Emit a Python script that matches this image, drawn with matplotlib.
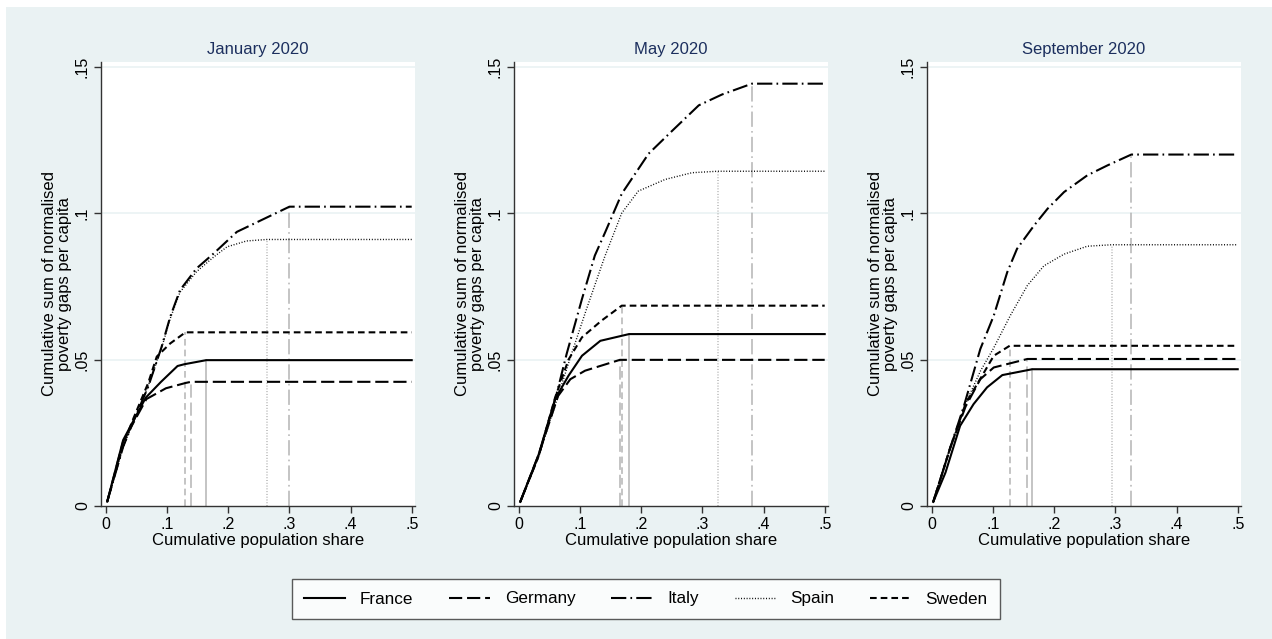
import matplotlib.pyplot as plt
from matplotlib.patches import Rectangle

plt.rcParams['font.family'] = ['Liberation Sans', 'DejaVu Sans']
plt.rcParams['lines.scale_dashes'] = False

titles = ["January 2020", "May 2020", "September 2020"]
countries = ["France", "Germany", "Italy", "Spain", "Sweden"]

# (x, y) points; the last point before .5 is where the curve flattens
jan = {
    "France": ([0.002, 0.028, 0.065, 0.09, 0.117, 0.128, 0.164, 0.5],
               [0.0015, 0.0225, 0.037, 0.0424, 0.0478, 0.0484, 0.0498, 0.0498]),
    "Germany": ([0.002, 0.028, 0.066, 0.098, 0.13, 0.139, 0.5],
                [0.0015, 0.022, 0.0365, 0.0402, 0.042, 0.0424, 0.0424]),
    "Italy": ([0.002, 0.028, 0.045, 0.069, 0.091, 0.105, 0.121, 0.148, 0.176, 0.214, 0.26, 0.3, 0.5],
              [0.0015, 0.0202, 0.029, 0.0407, 0.0544, 0.0646, 0.0737, 0.0811, 0.0862, 0.0936, 0.0982, 0.1022, 0.1022]),
    "Spain": ([0.002, 0.028, 0.045, 0.069, 0.091, 0.105, 0.121, 0.148, 0.176, 0.198, 0.23, 0.263, 0.5],
              [0.0015, 0.020, 0.029, 0.041, 0.054, 0.064, 0.073, 0.080, 0.085, 0.0885, 0.0905, 0.091, 0.091]),
    "Sweden": ([0.002, 0.028, 0.045, 0.069, 0.083, 0.105, 0.13, 0.5],
               [0.0015, 0.021, 0.030, 0.042, 0.051, 0.0555, 0.0593, 0.0593]),
}

may = {
    "France": ([0.002, 0.032, 0.059, 0.081, 0.103, 0.133, 0.18, 0.5],
               [0.0014, 0.0175, 0.0365, 0.0445, 0.0513, 0.0564, 0.0587, 0.0587]),
    "Germany": ([0.002, 0.032, 0.064, 0.084, 0.108, 0.165, 0.5],
                [0.0014, 0.0175, 0.0376, 0.0433, 0.0462, 0.0499, 0.0499]),
    "Italy": ([0.002, 0.032, 0.06, 0.078, 0.103, 0.124, 0.141, 0.168, 0.212, 0.25, 0.294, 0.332, 0.381, 0.5],
              [0.0014, 0.017, 0.037, 0.052, 0.0707, 0.0855, 0.0935, 0.1066, 0.1203, 0.128, 0.1368, 0.1405, 0.1442, 0.1442]),
    "Spain": ([0.002, 0.032, 0.06, 0.086, 0.11, 0.14, 0.168, 0.195, 0.239, 0.283, 0.325, 0.5],
              [0.0014, 0.017, 0.035, 0.052, 0.067, 0.085, 0.100, 0.1075, 0.1115, 0.1138, 0.1143, 0.1143]),
    "Sweden": ([0.002, 0.032, 0.059, 0.081, 0.103, 0.135, 0.168, 0.5],
               [0.0014, 0.017, 0.037, 0.050, 0.0576, 0.0633, 0.0684, 0.0684]),
}

sep = {
    "France": ([0.002, 0.022, 0.046, 0.068, 0.09, 0.115, 0.164, 0.5],
               [0.0014, 0.0114, 0.0274, 0.0348, 0.0405, 0.0447, 0.0467, 0.0467]),
    "Germany": ([0.002, 0.03, 0.055, 0.079, 0.101, 0.156, 0.5],
                [0.0014, 0.020, 0.034, 0.0433, 0.0473, 0.0502, 0.0502]),
    "Italy": ([0.002, 0.03, 0.052, 0.079, 0.101, 0.123, 0.139, 0.167, 0.189, 0.216, 0.254, 0.287, 0.326, 0.5],
              [0.0014, 0.020, 0.034, 0.0536, 0.065, 0.0798, 0.0878, 0.0958, 0.1015, 0.1072, 0.1129, 0.1163, 0.120, 0.120]),
    "Spain": ([0.002, 0.03, 0.055, 0.079, 0.101, 0.128, 0.156, 0.183, 0.216, 0.254, 0.294, 0.5],
              [0.0014, 0.020, 0.035, 0.046, 0.054, 0.065, 0.0753, 0.082, 0.086, 0.0887, 0.0892, 0.0892]),
    "Sweden": ([0.002, 0.03, 0.055, 0.082, 0.101, 0.127, 0.5],
               [0.0014, 0.020, 0.035, 0.0445, 0.0513, 0.0547, 0.0547]),
}

styles = {
    "France": dict(ls='-', lw=1.5),
    "Germany": dict(ls=(0, (9.5, 3.5)), lw=1.5),
    "Italy": dict(ls=(0, (11, 3, 1.2, 3)), lw=1.5),
    "Spain": dict(ls=(0, (0.7, 1.3)), lw=1.0),
    "Sweden": dict(ls=(0, (4.8, 2.9)), lw=1.5),
}

bg = '#eaf2f3'
fig = plt.figure(figsize=(12.72, 6.39), dpi=100, facecolor='white')
fig.patches.append(Rectangle((6 / 1272, 0), 1, 1 - 7 / 639, transform=fig.transFigure,
                             facecolor=bg, edgecolor='none', zorder=-10))

W, H = 1272, 639
lefts = [101, 514, 927]
panel_w = 314
top, bottom = 62, 506

for i, (data, title) in enumerate(zip([jan, may, sep], titles)):
    ax = fig.add_axes([lefts[i] / W, (H - bottom) / H, panel_w / W, (bottom - top) / H])
    ax.set_facecolor('white')
    ax.set_xlim(-0.0082, 0.5054)
    ax.set_ylim(0, 0.1516)
    ax.set_yticks([0, 0.05, 0.1, 0.15])
    ax.set_yticklabels(['0', '.05', '.1', '.15'], rotation=90, va='center')
    ax.set_xticks([0, 0.1, 0.2, 0.3, 0.4, 0.5])
    ax.set_xticklabels(['0', '.1', '.2', '.3', '.4', '.5'])
    for s in ['top', 'right']:
        ax.spines[s].set_visible(False)
    for s in ['left', 'bottom']:
        ax.spines[s].set_color('#333333')
        ax.spines[s].set_linewidth(1.0)
    ax.tick_params(length=5, width=1.0, color='#333333', labelsize=11.5, pad=3)
    for g in [0.05, 0.1, 0.15]:
        ax.axhline(g, color=bg, lw=1.2, zorder=0)

    for c in countries:
        x, y = data[c]
        st = styles[c]
        ax.plot([x[-2], x[-2]], [0, y[-2]], color='#b4b4b4', lw=1.1, ls=st['ls'], zorder=1)
        ax.plot(x, y, color='black', zorder=2, **st, label=c)

    ax.set_title(title, fontsize=12, color='#1c2f5e', pad=6)
    ax.set_xlabel('Cumulative population share', fontsize=12, labelpad=1)
    ax.set_ylabel('Cumulative sum of normalised\npoverty gaps per capita', fontsize=12,
                  labelpad=2, linespacing=1.0)

handles, labels = ax.get_legend_handles_labels()
leg = fig.legend(handles, labels, loc='center', bbox_to_anchor=(646 / W, (H - 599) / H),
                 ncol=5, frameon=True, fancybox=False, fontsize=12.3, handlelength=2.4,
                 columnspacing=2.1, handletextpad=0.85, borderpad=0.75, borderaxespad=0)
leg.get_frame().set_edgecolor('#333333')
leg.get_frame().set_linewidth(1.0)

fig.savefig('out.png', dpi=100, facecolor=fig.get_facecolor())
